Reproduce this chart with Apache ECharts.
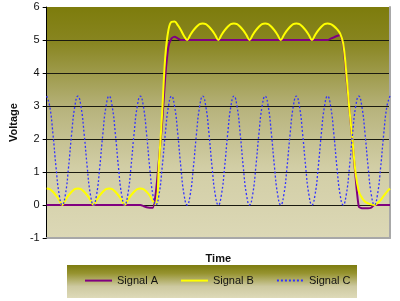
<!DOCTYPE html>
<html>
<head>
<meta charset="utf-8">
<script src="https://cdn.jsdelivr.net/npm/echarts@6/dist/echarts.min.js"></script>
<style>
html,body{margin:0;padding:0;background:#fff;}
#chart{width:400px;height:301px;}
</style>
</head>
<body>
<div id="chart"></div>
<script>
// Signal values sampled at time steps 0..110
var signalA = [
  0,0,0,0,0,0,0,0,0,0,
  0,0,0,0,0,0,0,0,0,0,
  0,0,0,0,0,0,0,0,0,0,
  0,-0.03,-0.07,-0.08,-0.08,0.4,1.4,2.5,3.9,4.8,
  5.05,5.1,5.05,5.0,5.0,5.0,5.0,5.0,5.0,5.0,
  5.0,5.0,5.0,5.0,5.0,5.0,5.0,5.0,5.0,5.0,
  5.0,5.0,5.0,5.0,5.0,5.0,5.0,5.0,5.0,5.0,
  5.0,5.0,5.0,5.0,5.0,5.0,5.0,5.0,5.0,5.0,
  5.0,5.0,5.0,5.0,5.0,5.0,5.0,5.0,5.0,5.0,
  5.0,5.04,5.08,5.12,5.15,4.85,3.9,2.9,1.9,0.8,
  -0.05,-0.1,-0.1,-0.1,-0.08,0,0,0,0,0,
  0
];
var signalB = [
  0.5,0.48,0.4,0.29,0.15,0,0.15,0.29,0.4,0.48,
  0.5,0.48,0.4,0.29,0.15,0,0.15,0.29,0.4,0.48,
  0.5,0.48,0.4,0.29,0.15,0,0.15,0.29,0.4,0.48,
  0.5,0.48,0.4,0.29,0.12,0.02,1.3,2.8,4.5,5.3,
  5.55,5.56,5.45,5.3,5.12,5.0,5.15,5.29,5.4,5.48,
  5.5,5.48,5.4,5.29,5.15,5.0,5.15,5.29,5.4,5.48,
  5.5,5.48,5.4,5.29,5.15,5.0,5.15,5.29,5.4,5.48,
  5.5,5.48,5.4,5.29,5.15,5.0,5.15,5.29,5.4,5.48,
  5.5,5.48,5.4,5.29,5.15,5.0,5.15,5.29,5.4,5.48,
  5.5,5.48,5.42,5.33,5.2,4.9,4.0,2.9,1.95,0.95,
  0.42,0.22,0.1,0.05,0.02,0.0,0.06,0.15,0.28,0.4,
  0.5
];
var signalC = [
  3.3,2.98,2.16,1.14,0.32,0,0.32,1.14,2.16,2.98,
  3.3,2.98,2.16,1.14,0.32,0,0.32,1.14,2.16,2.98,
  3.3,2.98,2.16,1.14,0.32,0,0.32,1.14,2.16,2.98,
  3.3,2.98,2.16,1.14,0.32,0,0.32,1.14,2.16,2.98,
  3.3,2.98,2.16,1.14,0.32,0,0.32,1.14,2.16,2.98,
  3.3,2.98,2.16,1.14,0.32,0,0.32,1.14,2.16,2.98,
  3.3,2.98,2.16,1.14,0.32,0,0.32,1.14,2.16,2.98,
  3.3,2.98,2.16,1.14,0.32,0,0.32,1.14,2.16,2.98,
  3.3,2.98,2.16,1.14,0.32,0,0.32,1.14,2.16,2.98,
  3.3,2.98,2.16,1.14,0.32,0,0.32,1.14,2.16,2.98,
  3.3,2.98,2.16,1.14,0.32,0,0.32,1.14,2.16,2.98,
  3.3
];
var seriesNames = ['Signal A','Signal B','Signal C'];
var yMin = -1, yMax = 6, yStep = 1;
var xTitle = 'Time', yTitle = 'Voltage';

function pairs(arr){ return arr.map(function(v,i){ return [i, v]; }); }

var chart = echarts.init(document.getElementById('chart'), null, {renderer:'canvas'});
var font = 'Liberation Sans, Arial, sans-serif';
var plotGrad = new echarts.graphic.LinearGradient(0,0,0,1,[
  {offset:0, color:'#7d7c0c'},
  {offset:0.15, color:'#888520'},
  {offset:0.45, color:'#b8b47e'},
  {offset:0.7, color:'#d2cea6'},
  {offset:1, color:'#dcd8b6'}
]);
var legendGrad = new echarts.graphic.LinearGradient(0,0,0,1,[
  {offset:0, color:'#7d7c10'},
  {offset:0.25, color:'#96932f'},
  {offset:0.65, color:'#cdc9a0'},
  {offset:1, color:'#dedab8'}
]);
chart.setOption({
  animation:false,
  backgroundColor:'#ffffff',
  textStyle:{fontFamily:font},
  grid:{left:36, right:10, top:7, bottom:63, show:true, backgroundColor:plotGrad, borderWidth:0},
  graphic:[{
    type:'rect', left:67, top:265, z:-10,
    shape:{width:290, height:33},
    style:{fill:legendGrad}
  }],
  legend:{
    data:seriesNames, left:84, top:275, padding:0, itemWidth:27, itemHeight:14, itemGap:22,
    itemStyle:{opacity:0},
    textStyle:{fontSize:11, color:'#111', fontFamily:font}, z:10
  },
  xAxis:{
    type:'value', min:0, max:signalC.length-1,
    name:xTitle, nameLocation:'middle', nameGap:15,
    nameTextStyle:{fontWeight:'bold', fontSize:11, color:'#111', fontFamily:font},
    axisLine:{show:true, onZero:false, lineStyle:{color:'#a8a8a8', width:2}},
    axisTick:{show:false}, axisLabel:{show:false}, splitLine:{show:false}
  },
  yAxis:[{
    type:'value', min:yMin, max:yMax, interval:yStep,
    name:yTitle, nameLocation:'middle', nameGap:24, nameRotate:90,
    nameTextStyle:{fontWeight:'bold', fontSize:11, color:'#111', fontFamily:font},
    axisLine:{show:true, lineStyle:{color:'#000', width:1}},
    axisTick:{show:true, length:4, lineStyle:{color:'#000'}},
    axisLabel:{fontSize:11, color:'#111', margin:7, fontFamily:font},
    splitLine:{show:true, lineStyle:{color:['#1a1a10','#1a1a10','#1a1a10','#1a1a10','#1a1a10','#1a1a10','#1a1a10','rgba(0,0,0,0)'], width:1}}
  },{
    type:'value', min:yMin, max:yMax, interval:yStep, position:'right',
    axisLine:{show:true, lineStyle:{color:'#a8a8a8', width:2}},
    axisTick:{show:false}, axisLabel:{show:false}, splitLine:{show:false}
  }],
  series:[{
    name:seriesNames[0], type:'line', symbol:'none', smooth:0.2,
    data:pairs(signalA), lineStyle:{color:'#800080', width:2}, itemStyle:{color:'#800080'}
  },{
    name:seriesNames[1], type:'line', symbol:'none', smooth:0.4,
    data:pairs(signalB), lineStyle:{color:'#ffff00', width:2}, itemStyle:{color:'#ffff00'}
  },{
    name:seriesNames[2], type:'line', symbol:'none', smooth:0.5,
    data:pairs(signalC), lineStyle:{color:'#3333ff', width:1.3, type:[2,2]}, itemStyle:{color:'#3333ff'}
  }]
});
</script>
</body>
</html>
